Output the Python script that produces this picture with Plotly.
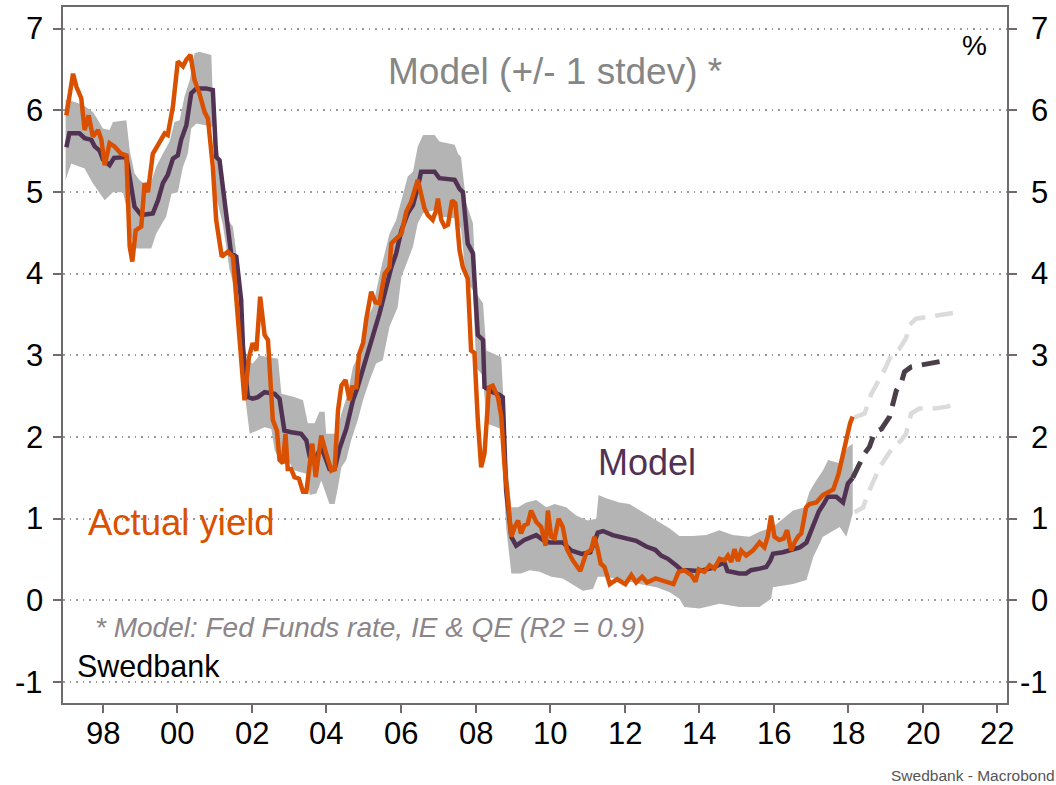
import plotly.graph_objects as go

# ---- Actual 10y yield (decimal year, %) ----
yield_t = [1997.02, 1997.20, 1997.29, 1997.42, 1997.51, 1997.62, 1997.73, 1997.87, 1997.96, 1998.05,
           1998.18, 1998.31, 1998.49, 1998.63, 1998.72, 1998.79, 1998.88, 1999.03, 1999.12, 1999.21,
           1999.34, 1999.52, 1999.66, 1999.74, 1999.88, 2000.01, 2000.15, 2000.24, 2000.35, 2000.46,
           2000.59, 2000.73, 2000.82, 2000.95, 2001.04, 2001.19, 2001.35, 2001.49, 2001.58, 2001.71,
           2001.80, 2001.92, 2002.02, 2002.12, 2002.22, 2002.34, 2002.43, 2002.56, 2002.67, 2002.74,
           2002.83, 2002.90, 2002.96, 2003.05, 2003.14, 2003.26, 2003.37, 2003.46, 2003.62, 2003.71,
           2003.86, 2003.99, 2004.13, 2004.22, 2004.31, 2004.40, 2004.51, 2004.62, 2004.69, 2004.80,
           2004.87, 2004.98, 2005.07, 2005.20, 2005.31, 2005.42, 2005.56, 2005.69, 2005.74, 2005.87,
           2006.01, 2006.14, 2006.27, 2006.45, 2006.54, 2006.63, 2006.72, 2006.85, 2006.93, 2006.99,
           2007.08, 2007.17, 2007.26, 2007.37, 2007.46, 2007.57, 2007.66, 2007.79, 2007.88, 2007.97,
           2008.06, 2008.15, 2008.24, 2008.36, 2008.46, 2008.60, 2008.69, 2008.78, 2008.87, 2008.96,
           2009.05, 2009.14, 2009.22, 2009.31, 2009.40, 2009.49, 2009.63, 2009.76, 2009.88, 2009.94,
           2010.03, 2010.12, 2010.23, 2010.34, 2010.45, 2010.61, 2010.81, 2010.97, 2011.10, 2011.19,
           2011.28, 2011.36, 2011.46, 2011.60, 2011.80, 2012.02, 2012.18, 2012.31, 2012.47, 2012.60,
           2012.83, 2013.08, 2013.31, 2013.45, 2013.60, 2013.79, 2013.90, 2013.99, 2014.14, 2014.28,
           2014.41, 2014.55, 2014.68, 2014.77, 2014.86, 2014.95, 2015.04, 2015.13, 2015.26, 2015.44,
           2015.62, 2015.75, 2015.84, 2015.93, 2016.02, 2016.15, 2016.27, 2016.36, 2016.47, 2016.56,
           2016.65, 2016.74, 2016.87, 2016.96, 2017.14, 2017.32, 2017.45, 2017.60, 2017.74, 2017.81,
           2017.90, 2017.99, 2018.05, 2018.12]
yield_v = [5.94, 6.45, 6.29, 6.15, 5.76, 5.94, 5.68, 5.76, 5.64, 5.33,
           5.60, 5.56, 5.47, 5.45, 4.33, 4.15, 4.53, 4.58, 5.11, 5.00,
           5.47, 5.60, 5.72, 5.70, 6.05, 6.60, 6.54, 6.62, 6.68, 6.37,
           6.21, 5.98, 5.90, 5.31, 4.66, 4.21, 4.27, 4.21, 3.74, 2.98,
           2.45, 2.98, 3.15, 3.06, 3.72, 3.25, 3.19, 2.21, 2.08, 1.72,
           1.68, 2.04, 1.61, 1.61, 1.51, 1.49, 1.33, 1.33, 1.92, 1.51,
           2.02, 1.80, 1.59, 1.61, 2.33, 2.63, 2.70, 2.45, 2.61, 2.61,
           3.01, 3.15, 3.45, 3.78, 3.65, 3.64, 4.00, 4.08, 4.37, 4.43,
           4.49, 4.76, 4.88, 5.15, 5.00, 4.80, 4.72, 4.66, 4.76, 4.92,
           4.66, 4.58, 4.60, 4.90, 4.86, 4.29, 4.08, 3.94, 3.06, 3.03,
           2.21, 1.63, 1.80, 2.61, 2.63, 2.49, 2.25, 1.63, 1.23, 0.78,
           0.90, 0.98, 0.82, 0.92, 0.94, 1.10, 0.96, 0.90, 0.67, 1.10,
           0.78, 0.76, 1.00, 0.90, 0.63, 0.49, 0.36, 0.58, 0.62, 0.78,
           0.62, 0.45, 0.41, 0.20, 0.26, 0.20, 0.31, 0.22, 0.29, 0.22,
           0.27, 0.24, 0.20, 0.35, 0.37, 0.31, 0.23, 0.38, 0.35, 0.43,
           0.39, 0.51, 0.49, 0.55, 0.47, 0.63, 0.48, 0.61, 0.55, 0.61,
           0.71, 0.65, 0.78, 1.04, 0.78, 0.74, 0.76, 0.86, 0.61, 0.71,
           0.78, 0.82, 1.14, 1.18, 1.20, 1.29, 1.33, 1.36, 1.55, 1.70,
           1.84, 2.04, 2.17, 2.25]

# ---- Model fit ----
model_t = [1997.02, 1997.10, 1997.37, 1997.51, 1997.69, 1997.78, 1997.91, 1998.00, 1998.18, 1998.30,
           1998.63, 1998.76, 1998.85, 1999.03, 1999.34, 1999.48, 1999.61, 1999.74, 1999.88, 2000.01,
           2000.10, 2000.24, 2000.37, 2000.51, 2000.77, 2000.95, 2001.04, 2001.13, 2001.31, 2001.44,
           2001.58, 2001.71, 2001.76, 2001.89, 2002.02, 2002.16, 2002.34, 2002.61, 2002.74, 2002.87,
           2003.06, 2003.32, 2003.46, 2003.55, 2003.68, 2003.86, 2003.99, 2004.08, 2004.22, 2004.35,
           2004.53, 2004.62, 2004.71, 2004.82, 2004.98, 2005.16, 2005.29, 2005.42, 2005.60, 2005.74,
           2005.87, 2006.01, 2006.18, 2006.32, 2006.45, 2006.54, 2006.90, 2007.03, 2007.44, 2007.57,
           2007.66, 2007.79, 2007.93, 2008.06, 2008.20, 2008.24, 2008.46, 2008.64, 2008.73, 2008.82,
           2008.96, 2009.09, 2009.31, 2009.63, 2009.81, 2009.98, 2010.34, 2010.57, 2010.85, 2011.08,
           2011.28, 2011.42, 2011.68, 2012.04, 2012.31, 2012.58, 2012.82, 2012.98, 2013.16, 2013.38,
           2013.53, 2013.69, 2014.01, 2014.19, 2014.36, 2014.56, 2014.68, 2014.76, 2015.08, 2015.26,
           2015.39, 2015.62, 2015.80, 2015.91, 2015.98, 2016.25, 2016.52, 2016.70, 2016.88, 2017.06,
           2017.21, 2017.34, 2017.45, 2017.68, 2017.86, 2017.99, 2018.12]
model_v = [5.55, 5.72, 5.72, 5.66, 5.64, 5.56, 5.51, 5.40, 5.33, 5.42,
           5.43, 5.11, 4.82, 4.72, 4.74, 4.90, 5.11, 5.21, 5.41, 5.45,
           5.64, 5.82, 6.21, 6.27, 6.27, 6.25, 5.43, 5.39, 4.74, 4.25,
           4.21, 3.68, 3.10, 2.49, 2.47, 2.49, 2.55, 2.53, 2.47, 2.08,
           2.06, 2.04, 1.96, 1.76, 1.72, 1.88, 1.72, 1.61, 1.61, 1.86,
           2.10, 2.27, 2.45, 2.59, 2.85, 3.12, 3.31, 3.51, 3.84, 4.08,
           4.25, 4.53, 4.74, 4.84, 5.06, 5.25, 5.25, 5.17, 5.15, 5.04,
           5.00, 4.37, 4.25, 3.25, 3.19, 2.61, 2.55, 2.52, 2.49, 1.35,
           0.78, 0.67, 0.74, 0.80, 0.74, 0.71, 0.71, 0.61, 0.57, 0.59,
           0.83, 0.85, 0.80, 0.76, 0.73, 0.66, 0.62, 0.55, 0.51, 0.43,
           0.37, 0.37, 0.36, 0.38, 0.40, 0.44, 0.46, 0.36, 0.33, 0.33,
           0.37, 0.39, 0.41, 0.49, 0.57, 0.59, 0.63, 0.65, 0.71, 0.90,
           1.09, 1.18, 1.27, 1.27, 1.20, 1.43, 1.50]

# ---- Model +/- 1 stdev ----
band_hi_t = [1997.00, 1997.20, 1997.46, 1997.73, 1997.82, 1998.00, 1998.18, 1998.27, 1998.63, 1998.72,
             1998.85, 1998.98, 1999.25, 1999.43, 1999.61, 1999.79, 1999.92, 2000.06, 2000.19, 2000.33,
             2000.46, 2000.59, 2000.91, 2000.99, 2001.08, 2001.22, 2001.35, 2001.49, 2001.58, 2001.67,
             2001.85, 2002.02, 2002.20, 2002.70, 2002.79, 2003.14, 2003.37, 2003.50, 2003.68, 2003.81,
             2003.95, 2003.99, 2004.26, 2004.40, 2004.57, 2004.71, 2004.84, 2004.98, 2005.11, 2005.24,
             2005.38, 2005.47, 2005.69, 2005.87, 2006.01, 2006.18, 2006.32, 2006.45, 2006.59, 2006.90,
             2007.03, 2007.44, 2007.53, 2007.61, 2007.75, 2007.93, 2008.02, 2008.20, 2008.29, 2008.69,
             2008.82, 2008.96, 2009.14, 2009.36, 2009.63, 2009.90, 2010.12, 2010.43, 2010.70, 2011.01,
             2011.24, 2011.30, 2011.50, 2011.86, 2012.13, 2012.49, 2012.85, 2013.21, 2013.47, 2013.83,
             2014.19, 2014.54, 2014.90, 2015.35, 2015.62, 2015.98, 2016.52, 2016.83, 2016.96, 2017.14,
             2017.32, 2017.46, 2017.77, 2017.99, 2018.12]
band_hi_v = [6.13, 6.11, 6.07, 5.98, 5.92, 5.78, 5.76, 5.86, 5.88, 5.51,
             5.23, 5.15, 5.06, 5.31, 5.47, 5.62, 5.86, 5.88, 6.17, 6.37,
             6.70, 6.72, 6.68, 5.64, 5.56, 5.15, 4.66, 4.58, 4.25, 3.47,
             2.94, 2.90, 3.00, 2.96, 2.53, 2.49, 2.45, 2.17, 2.17, 2.31,
             2.31, 2.04, 2.04, 2.29, 2.53, 2.86, 2.98, 3.23, 3.47, 3.59,
             3.88, 4.08, 4.49, 4.66, 4.90, 5.19, 5.25, 5.56, 5.70, 5.70,
             5.62, 5.58, 5.47, 5.43, 4.86, 4.62, 3.76, 3.64, 3.06, 2.98,
             1.80, 1.14, 1.14, 1.20, 1.23, 1.14, 1.18, 1.14, 1.04, 0.98,
             1.00, 1.29, 1.25, 1.20, 1.18, 1.08, 0.98, 0.88, 0.79, 0.79,
             0.80, 0.86, 0.80, 0.78, 0.84, 0.90, 1.10, 1.14, 1.33, 1.47,
             1.59, 1.72, 1.68, 1.88, 1.92]
band_lo_t = [1997.00, 1997.15, 1997.51, 1997.73, 1998.05, 1998.27, 1998.54, 1998.67, 1998.76, 1998.90,
             1999.30, 1999.43, 1999.70, 1999.84, 2000.01, 2000.15, 2000.28, 2000.37, 2000.51, 2000.95,
             2001.04, 2001.22, 2001.40, 2001.58, 2001.76, 2001.94, 2002.07, 2002.34, 2002.52, 2002.61,
             2002.74, 2002.96, 2003.14, 2003.46, 2003.55, 2003.73, 2003.86, 2003.99, 2004.08, 2004.22,
             2004.31, 2004.40, 2004.53, 2004.66, 2004.84, 2004.98, 2005.16, 2005.33, 2005.51, 2005.69,
             2005.91, 2006.01, 2006.18, 2006.32, 2006.45, 2006.59, 2006.90, 2007.03, 2007.44, 2007.61,
             2007.75, 2007.93, 2008.02, 2008.20, 2008.29, 2008.69, 2008.82, 2008.96, 2009.22, 2009.45,
             2009.72, 2010.03, 2010.34, 2010.61, 2010.88, 2011.15, 2011.28, 2011.51, 2011.95, 2012.40,
             2012.85, 2013.21, 2013.47, 2013.60, 2014.01, 2014.54, 2015.08, 2015.62, 2015.93, 2015.98,
             2016.52, 2016.88, 2017.06, 2017.32, 2017.77, 2017.95, 2018.12]
band_lo_v = [5.15, 5.35, 5.29, 5.11, 4.90, 5.00, 5.00, 4.74, 4.45, 4.31,
             4.31, 4.49, 4.70, 4.98, 5.00, 5.31, 5.47, 5.78, 5.84, 5.80,
             4.95, 4.60, 4.05, 3.75, 2.70, 2.04, 2.06, 2.12, 2.10, 1.84,
             1.72, 1.72, 1.59, 1.55, 1.29, 1.31, 1.47, 1.31, 1.18, 1.18,
             1.39, 1.63, 1.72, 1.96, 2.21, 2.45, 2.70, 2.90, 2.94, 3.35,
             3.59, 3.96, 4.17, 4.33, 4.62, 4.74, 4.78, 4.70, 4.68, 4.55,
             3.90, 3.80, 2.85, 2.75, 2.17, 2.10, 0.90, 0.33, 0.33, 0.37,
             0.35, 0.29, 0.27, 0.20, 0.12, 0.14, 0.29, 0.29, 0.25, 0.20,
             0.16, 0.10, 0.02, -0.08, -0.10, -0.04, -0.08, -0.08, 0.02, 0.16,
             0.20, 0.25, 0.53, 0.78, 0.90, 0.78, 1.06]

# ---- Forecast path and +/- 1 stdev ----
fc_t = [2018.12, 2018.22, 2018.44, 2018.57, 2018.71, 2018.89, 2019.11, 2019.20, 2019.29, 2019.42,
        2019.51, 2019.69, 2019.91, 2020.36, 2020.63]
fc_v = [1.50, 1.59, 1.80, 1.88, 2.06, 2.10, 2.25, 2.41, 2.57, 2.66,
        2.80, 2.86, 2.88, 2.92, 2.94]
fc_hi_t = [2018.17, 2018.44, 2018.62, 2018.84, 2018.97, 2019.15, 2019.37, 2019.55, 2019.64, 2019.82,
           2020.09, 2020.63, 2020.94]
fc_hi_v = [2.24, 2.29, 2.53, 2.70, 2.82, 3.00, 3.08, 3.21, 3.37, 3.45,
           3.47, 3.51, 3.53]
fc_lo_t = [2018.17, 2018.40, 2018.53, 2018.67, 2018.84, 2018.97, 2019.20, 2019.42, 2019.55, 2019.69,
           2019.91, 2020.31, 2020.63, 2020.94]
fc_lo_v = [1.08, 1.14, 1.31, 1.47, 1.63, 1.72, 1.88, 1.96, 2.04, 2.29,
           2.35, 2.35, 2.37, 2.41]

x_ticks = [1998, 2000, 2002, 2004, 2006, 2008, 2010, 2012, 2014, 2016, 2018, 2020, 2022]
x_tick_labels = ["98", "00", "02", "04", "06", "08", "10", "12", "14", "16", "18", "20", "22"]
y_ticks = [-1, 0, 1, 2, 3, 4, 5, 6, 7]
y_tick_labels = ["-1", "0", "1", "2", "3", "4", "5", "6", "7"]

ORANGE = "#D95100"
PURPLE = "#513252"
BAND = "#B4B4B4"
FONT = "Liberation Sans, Arial, sans-serif"
TICK_SIZE = 31
X_RANGE = [1996.93, 2022.26]
Y_RANGE = [-1.256, 7.267]

fig = go.Figure()

# shaded stdev band as one closed polygon
fig.add_trace(go.Scatter(
    x=band_hi_t + band_lo_t[::-1], y=band_hi_v + band_lo_v[::-1],
    fill="toself", fillcolor=BAND, line=dict(width=0), mode="lines",
    hoverinfo="skip", showlegend=False))

fig.add_trace(go.Scatter(x=fc_hi_t, y=fc_hi_v, mode="lines",
                         line=dict(color="#DCDADB", width=4.5, dash="18px,10px"), showlegend=False))
fig.add_trace(go.Scatter(x=fc_lo_t, y=fc_lo_v, mode="lines",
                         line=dict(color="#DCDADB", width=4.5, dash="18px,10px"), showlegend=False))
fig.add_trace(go.Scatter(x=fc_t, y=fc_v, mode="lines",
                         line=dict(color="#4A3F48", width=5, dash="18px,10px"), showlegend=False))

fig.add_trace(go.Scatter(x=model_t, y=model_v, mode="lines", name="Model",
                         line=dict(color=PURPLE, width=4.5), showlegend=False))
fig.add_trace(go.Scatter(x=yield_t, y=yield_v, mode="lines", name="Actual yield",
                         line=dict(color=ORANGE, width=4.5), showlegend=False))

# invisible trace to carry the right-hand axis
fig.add_trace(go.Scatter(x=[X_RANGE[0]], y=[0], yaxis="y2", mode="markers",
                         marker=dict(opacity=0), hoverinfo="skip", showlegend=False))

axis_common = dict(showline=True, linecolor="#6E6A6E", linewidth=1.5, ticks="outside",
                   ticklen=8, tickwidth=1.5, tickcolor="#6E6A6E", automargin=False,
                   showticklabels=False, zeroline=False)

fig.update_layout(
    width=1056, height=785,
    margin=dict(l=63, r=49, t=7, b=82),
    paper_bgcolor="white", plot_bgcolor="white",
    xaxis=dict(range=X_RANGE, tickvals=x_ticks, showgrid=False, mirror=True, **axis_common),
    yaxis=dict(range=Y_RANGE, tickvals=y_ticks, showgrid=True, gridcolor="#9A9A9A",
               gridwidth=1.5, griddash="1.5px,5px", mirror=True, **axis_common),
    yaxis2=dict(range=Y_RANGE, tickvals=y_ticks, overlaying="y", side="right",
                showgrid=False, **axis_common),
)

tick_font = dict(family=FONT, size=TICK_SIZE, color="#000000")

# year labels under the x ticks
for tv, tt in zip(x_ticks, x_tick_labels):
    fig.add_annotation(text=tt, x=tv, xref="x", y=-0.0441, yref="paper",
                       xanchor="center", yanchor="middle", showarrow=False, font=tick_font)

# value labels on both sides, right-aligned
for tv, tt in zip(y_ticks, y_tick_labels):
    for xpos in (-0.0194, 1.0452):
        fig.add_annotation(text=tt, x=xpos, xref="paper", y=tv, yref="y",
                           xanchor="right", yanchor="middle", showarrow=False, font=tick_font)

def label(text, x, y, size, color, xanchor="center", italic=False):
    fig.add_annotation(text=text, xref="paper", yref="paper", x=x, y=y,
                       xanchor=xanchor, yanchor="middle", showarrow=False,
                       font=dict(family=FONT, size=size, color=color,
                                 style="italic" if italic else "normal"))

label("Model (+/- 1 stdev) *", 0.521, 0.907, 37, "#868686")
label("Model", 0.6186, 0.345, 36, PURPLE)
label("Actual yield", 0.1252, 0.260, 36.5, ORANGE)
label("* Model: Fed Funds rate, IE & QE (R2 = 0.9)", 0.0315, 0.108, 28, "#8C8589",
      xanchor="left", italic=True)
label("Swedbank", 0.0124, 0.0536, 30.5, "#000000", xanchor="left")
label("%", 0.966, 0.945, 28, "#000000")
fig.add_annotation(text="Swedbank - Macrobond", xref="paper", yref="paper",
                   x=1.0527, y=-0.104, xanchor="right", yanchor="middle", showarrow=False,
                   font=dict(family=FONT, size=15.5, color="#555555"))

fig.write_html("out.html")
